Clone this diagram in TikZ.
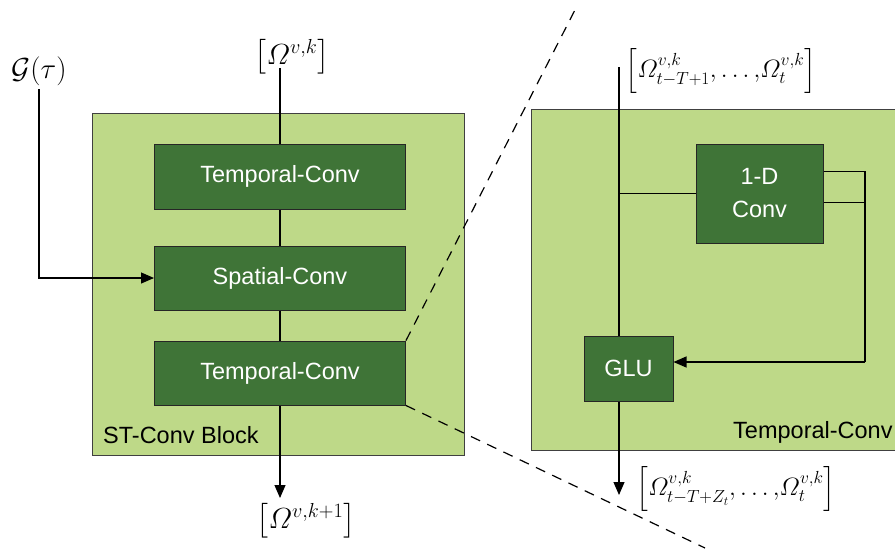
\RequirePackage{fix-cm}
\documentclass[tikz,border=0pt]{standalone}
\usepackage{amsmath}
\usepackage{amssymb}
\usepackage[no-math]{fontspec}
\newfontfamily\labelfont{Liberation Sans}
\usetikzlibrary{arrows.meta}
\definecolor{blockgreen}{RGB}{190,217,136}
\definecolor{convgreen}{RGB}{63,116,55}
\newcommand{\boxfont}{\labelfont\fontsize{23.5}{33}\selectfont}
\newcommand{\bigmath}{\fontsize{29}{34}\selectfont}
\newcommand{\smallmath}{\fontsize{25}{30}\selectfont}
\tikzset{
  blockbox/.style={draw=black!75, fill=blockgreen, line width=1pt},
  convbox/.style={draw=black!85, fill=convgreen, text=white, font=\boxfont, line width=1pt, inner sep=0pt, align=center},
  flow/.style={line width=1.1pt},
  flowarrow/.style={flow, -{Triangle[length=13pt,width=11pt]}},
  zoomline/.style={line width=1.2pt, dash pattern=on 10pt off 8pt}
}

\begin{document}
\begin{tikzpicture}[x=1pt,y=-1pt]

        \useasboundingbox (0,0) rectangle (895,550);
        \clip (0,0) rectangle (895,550);

          % ST-Conv block
        \node (stblock) at (278,284) [blockbox, minimum width=372pt, minimum height=342pt] {};
        \node (tcA) at (280,176.5) [convbox, minimum width=251pt, minimum height=65pt] {Temporal-Conv};
        \node (spc) at (280,278) [convbox, minimum width=251pt, minimum height=64pt] {Spatial-Conv};
        \node (tcB) at (280,373) [convbox, minimum width=251pt, minimum height=64pt] {Temporal-Conv};
        \node (stname) at (103,443) [anchor=base west, inner sep=0pt, font=\boxfont] {ST-Conv Block};

        \node (inlbl) at (292,57) [font=\bigmath] {$\left[\varOmega^{v,k}\right]$};
        \node (graph) at (39,71) [font=\bigmath] {$\mathcal{G}(\tau)$};
        \node (outlbl) at (306,521) [font=\bigmath] {$\left[\varOmega^{v,k+1}\right]$};
        \coordinate (inA) at (280,68);
        \coordinate (outA) at (280,498);

        \draw[flow] (inA) -- (tcA) (tcA) -- (spc) (spc) -- (tcB);
        \draw[flowarrow] (graph.south) |- (spc.west);
        \draw[flowarrow] (tcB) -- (outA);

          % zoom lines
        \coordinate (zoomtop) at (578,4);
        \coordinate (zoombot) at (705,548);
        \draw[zoomline] (tcB.north east) -- (zoomtop);
        \draw[zoomline] (tcB.south east) -- (zoombot);

          % Temporal-Conv detail
        \node (tcblock) at (727,279.5) [blockbox, minimum width=392pt, minimum height=341pt] {};
        \node (conv) at (759.5,193.5) [convbox, minimum width=127pt, minimum height=99pt] {1-D\\Conv};
        \node (glu) at (628.5,368.5) [convbox, minimum width=89pt, minimum height=65pt] {GLU};
        \node (tcname) at (733,438) [anchor=base west, inner sep=0pt, font=\boxfont] {Temporal-Conv};

        \node (rinlbl) at (721,71) [font=\smallmath] {$\left[\varOmega^{v,k}_{t-T+1}{,}\ldots{,}\varOmega^{v,k}_{t}\right]$};
        \node (routlbl) at (736,489) [font=\smallmath] {$\left[\varOmega^{v,k}_{t-T+Z_t}{,}\ldots{,}\varOmega^{v,k}_{t}\right]$};
        \coordinate (rin) at (619,67);
        \coordinate (fb) at (865,362);
        \coordinate (rout) at (619,495);

        \draw[flow] (rin) -- (rin |- glu.north)
        (rin |- conv.west) -- (conv.west);
        \draw[flow] (conv.19) -| (fb)
        (conv.-8.5) -- (conv.-8.5 -| fb);
        \draw[flowarrow] (fb) -- (fb -| glu.east);
        \draw[flowarrow] (glu.south -| rin) -- (rout);

        \end{tikzpicture}
\end{document}
